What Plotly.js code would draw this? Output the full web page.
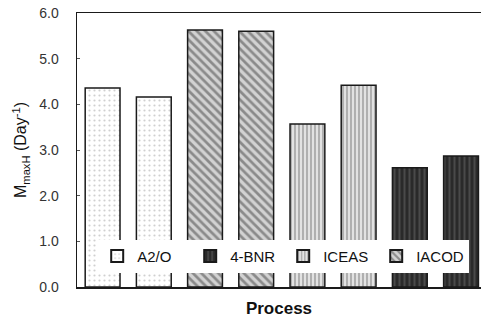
<!DOCTYPE html>
<html>
<head>
<meta charset="utf-8">
<script src="https://cdn.plot.ly/plotly-3.0.1.min.js"></script>
<style>html,body{margin:0;padding:0;background:#fff;}#chart{width:483px;height:327px;}</style>
</head>
<body>
<div id="chart"></div>
<script>
// Data (bar positions 1..8 along the Process axis)
const seriesNames = ["A2/O", "4-BNR", "ICEAS", "IACOD"];
const a2oX = [1, 2];
const a2oY = [4.36, 4.16];
const bnrX = [7, 8];
const bnrY = [2.61, 2.87];
const iceasX = [5, 6];
const iceasY = [3.57, 4.42];
const iacodX = [3, 4];
const iacodY = [5.63, 5.60];
const yTickVals = [0, 1, 2, 3, 4, 5, 6];
const yTickText = ["0.0", "1.0", "2.0", "3.0", "4.0", "5.0", "6.0"];

const line = {color: "#1a1a1a", width: 1.5};
const traces = [
  {x: a2oX, y: a2oY, name: seriesNames[0], type: "bar", width: 0.68,
   marker: {color: "#ffffff", line: line,
            pattern: {shape: ".", fgcolor: "#d0d0d0", bgcolor: "#ffffff", size: 5, solidity: 0.15}}},
  {x: bnrX, y: bnrY, name: seriesNames[1], type: "bar", width: 0.68,
   marker: {color: "#2e2e2e", line: line,
            pattern: {shape: "|", fgcolor: "#4a4a4a", bgcolor: "#2a2a2a", size: 5, solidity: 0.4}}},
  {x: iceasX, y: iceasY, name: seriesNames[2], type: "bar", width: 0.68,
   marker: {color: "#d4d4d4", line: line,
            pattern: {shape: "|", fgcolor: "#9a9a9a", bgcolor: "#e2e2e2", size: 4, solidity: 0.35}}},
  {x: iacodX, y: iacodY, name: seriesNames[3], type: "bar", width: 0.68,
   marker: {color: "#bdbdbd", line: line,
            pattern: {shape: "\\", fgcolor: "#8a8a8a", bgcolor: "#d2d2d2", size: 6, solidity: 0.45}}}
];

const layout = {
  width: 483, height: 327,
  margin: {l: 77, r: 2, t: 13, b: 40, pad: 0},
  paper_bgcolor: "#ffffff", plot_bgcolor: "#ffffff",
  font: {family: "Liberation Sans, Arial, sans-serif", color: "#222", size: 14},
  barmode: "overlay",
  showlegend: true,
  legend: {orientation: "h", x: 0.05, xanchor: "left", y: 0.172, yanchor: "top",
           bgcolor: "#ffffff", borderwidth: 0, font: {size: 15, color: "#111"},
           entrywidth: 48, entrywidthmode: "pixels", traceorder: "normal",
           itemsizing: "constant"},
  xaxis: {range: [0.5, 8.39], showticklabels: false, ticks: "", showgrid: false,
          zeroline: false, showline: true, linecolor: "#1a1a1a", linewidth: 1.5, mirror: true,
          title: {text: "<b>Process</b>", font: {size: 17, color: "#111"}, standoff: 14}},
  yaxis: {range: [0, 6], tickvals: yTickVals, ticktext: yTickText, ticks: "inside", ticklen: 3,
          tickcolor: "#555", showgrid: false, zeroline: false, showline: true,
          linecolor: "#1a1a1a", linewidth: 1.5, ticklabelstandoff: 14,
          tickfont: {size: 14, color: "#333"},
          title: {text: "M<sub>maxH</sub> (Day<sup>-1</sup>)", font: {size: 16, color: "#111"}, standoff: 8}}
};

Plotly.newPlot("chart", traces, layout, {displayModeBar: false, staticPlot: true});
</script>
</body>
</html>
